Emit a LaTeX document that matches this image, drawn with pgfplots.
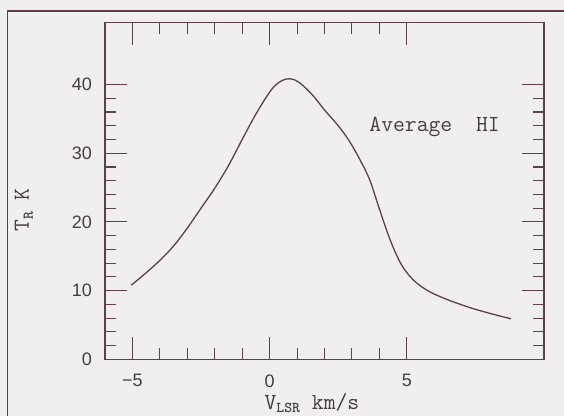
\documentclass[border=0pt]{standalone}
\usepackage{fontspec}
\usepackage{pgfplots}
\pgfplotsset{compat=1.18}
\newfontfamily\tickfont{Liberation Sans}
\newcommand\labfont{\ttfamily}
\definecolor{ink}{HTML}{5E404A}
\definecolor{txt}{HTML}{463E40}
\definecolor{paper}{HTML}{F1EEEF}
\begin{document}
\begin{tikzpicture}[x=1pt,y=1pt]
\fill[paper] (0,0) rectangle (564,416);
\useasboundingbox (0,0) rectangle (564,416);
\draw[ink, line width=1.3pt] (7.5,0) -- (7.5,405) -- (564,405);
\begin{axis}[
  scale only axis,
  width=439pt, height=336.6pt,
  at={(105pt,56.7pt)}, anchor=south west,
  xmin=-6, xmax=10, ymin=0, ymax=49,
  axis line style={ink, line width=1.2pt},
  every tick/.style={ink, line width=1.1pt},
  tick align=inside,
  major tick length=22pt, minor tick length=11pt,
  xtick={-5,0,5}, xticklabels={−5,0,5},
  minor x tick num=4,
  ytick={0,10,20,30,40}, yticklabels={0,10,20,30,40},
  minor y tick num=4,
  xticklabel style={font=\tickfont\fontsize{18}{20}\selectfont, text=txt, anchor=north, inner sep=0pt, yshift=-15pt},
  yticklabel style={font=\tickfont\fontsize{18}{20}\selectfont, text=txt, anchor=east, inner sep=0pt, xshift=-13pt},
  xlabel={V\raisebox{-0.4ex}{\fontsize{15}{15}\selectfont\bfseries LSR} km/s},
  xlabel style={font=\labfont\fontsize{23}{26}\selectfont, text=txt, at={(axis description cs:0.4715,-0.1477)}, anchor=base},
  ylabel={T\raisebox{-0.4ex}{\fontsize{15}{15}\selectfont\bfseries R} K},
  ylabel style={font=\labfont\fontsize{23}{26}\selectfont, text=txt, at={(axis description cs:-0.1845,0.4436)}, anchor=center},
  clip=false,
]
\addplot[ink, line width=1.3pt, smooth, tension=0.55] coordinates {
(-5.04,10.8) (-4.5,12.6) (-4.0,14.4) (-3.5,16.5) (-3.0,19.1) (-2.5,22.0)
(-2.0,24.9) (-1.5,28.2) (-1.0,32.0) (-0.5,35.7) (0.0,38.9) (0.3,40.2)
(0.6,40.8) (0.9,40.7) (1.2,39.9) (1.6,38.3) (2.0,36.3) (2.5,34.0)
(2.9,31.8) (3.3,29.0) (3.65,26.1) (4.0,21.9) (4.4,17.3) (4.8,13.8)
(5.2,11.7) (5.6,10.4) (6.0,9.5) (6.6,8.5) (7.4,7.4) (8.2,6.5) (8.8,5.9)
};
\node[font=\labfont\fontsize{23}{26}\selectfont, text=txt, anchor=base west, inner sep=0pt] at (axis cs:3.63,33.1) {Average\ \ HI};
\end{axis}
\end{tikzpicture}
\end{document}
